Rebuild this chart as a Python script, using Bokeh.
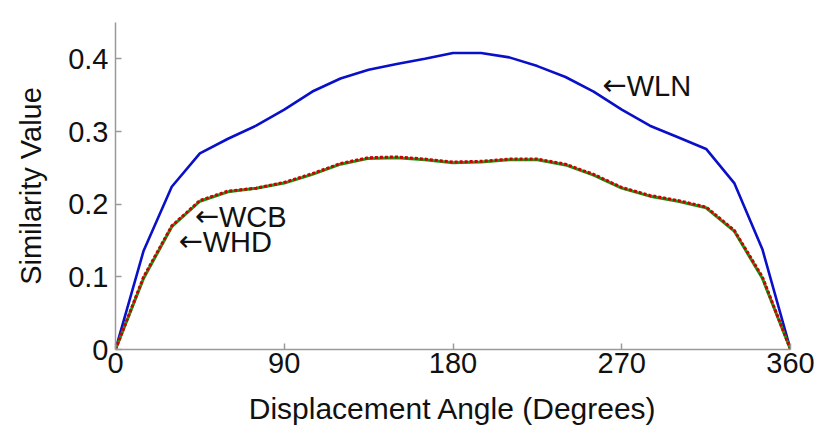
from bokeh.plotting import figure
from bokeh.models import FixedTicker, Range1d
from bokeh.core.properties import value
from bokeh.embed import file_html
from bokeh.resources import INLINE

angles = [0, 15, 30, 45, 60, 75, 90, 105, 120, 135, 150, 165, 180,
          195, 210, 225, 240, 255, 270, 285, 300, 315, 330, 345, 360]
wln = [0.0, 0.136, 0.224, 0.270, 0.290, 0.308, 0.330, 0.355, 0.373, 0.385, 0.393, 0.400, 0.408,
       0.408, 0.402, 0.390, 0.375, 0.355, 0.330, 0.308, 0.292, 0.276, 0.229, 0.138, 0.0]
wcb = [0.0, 0.100, 0.170, 0.205, 0.218, 0.222, 0.230, 0.242, 0.256, 0.264, 0.265, 0.262, 0.258,
       0.259, 0.262, 0.262, 0.255, 0.241, 0.223, 0.212, 0.205, 0.196, 0.164, 0.100, 0.0]
whd = [0.0, 0.098, 0.169, 0.204, 0.217, 0.222, 0.229, 0.241, 0.255, 0.263, 0.264, 0.261, 0.257,
       0.258, 0.261, 0.261, 0.254, 0.240, 0.222, 0.211, 0.204, 0.195, 0.163, 0.098, 0.0]

x_ticks = [0, 90, 180, 270, 360]
y_ticks = [0, 0.1, 0.2, 0.3, 0.4]
y_tick_labels = ["0", "0.1", "0.2", "0.3", "0.4"]

label_texts = ["WLN", "WCB", "WHD"]
label_x = [272.6, 55.2, 46.5]
label_y = [0.364, 0.184, 0.150]
arrows = ["\u2190", "\u2190", "\u2190"]

FONT = "Liberation Sans"
AXIS_COLOR = "#9a9a9a"
FS = "29px"

p = figure(width=831, height=430, output_backend="svg", toolbar_location=None,
           x_range=Range1d(0, 360), y_range=Range1d(0, 0.45),
           min_border_left=115, min_border_right=41, min_border_top=22, min_border_bottom=81)
p.outline_line_color = None
p.xgrid.visible = False
p.ygrid.visible = False
p.background_fill_color = "white"
p.border_fill_color = "white"

p.line(angles, wln, line_color="#0a10c8", line_width=2.6)
p.line(angles, whd, line_color="#1a9a1a", line_width=3)
p.line(angles, wcb, line_color="#d00000", line_width=3, line_dash="3 2")

p.text(label_x, label_y, text=label_texts, text_font=value(FONT), text_font_size=FS,
       text_color="#111111", text_baseline="middle", text_align="left", y_offset=1)
p.text(label_x, label_y, text=arrows, text_font=value("DejaVu Sans"), text_font_size=FS,
       text_color="#111111", text_baseline="middle", text_align="right")

for ax in (p.xaxis[0], p.yaxis[0]):
    ax.axis_line_color = AXIS_COLOR
    ax.axis_line_width = 1.5
    ax.major_tick_line_color = AXIS_COLOR
    ax.major_tick_line_width = 1.5
    ax.major_tick_in = 6
    ax.major_tick_out = 0
    ax.minor_tick_line_color = None
    ax.major_label_text_font = FONT
    ax.major_label_text_font_size = FS
    ax.major_label_text_color = "#111111"
    ax.axis_label_text_font = FONT
    ax.axis_label_text_font_size = FS
    ax.axis_label_text_font_style = "normal"
    ax.axis_label_text_color = "#111111"

p.xaxis.ticker = FixedTicker(ticks=x_ticks)
p.yaxis.ticker = FixedTicker(ticks=y_ticks)
p.yaxis.major_label_overrides = {t: s for t, s in zip(y_ticks, y_tick_labels)}
p.xaxis.axis_label = "Displacement Angle (Degrees)"
p.xaxis.axis_label_text_font_size = "30px"
p.yaxis.axis_label = "Similarity Value"
p.xaxis.major_label_standoff = 3
p.yaxis.major_label_standoff = 7
p.xaxis.axis_label_standoff = 16
p.yaxis.axis_label_standoff = 18

open("out.html", "w").write(file_html(p, INLINE))
